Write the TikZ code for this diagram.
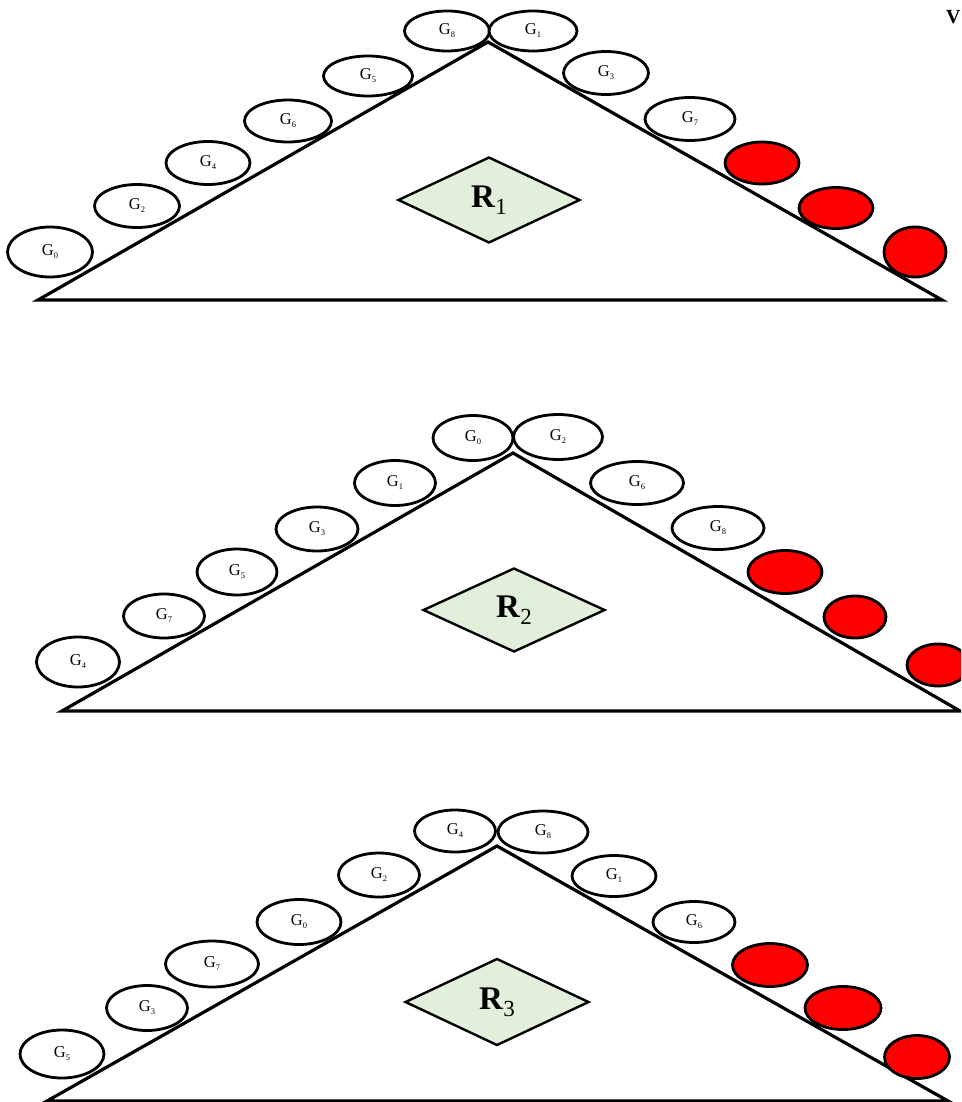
\documentclass[tikz,border=0pt]{standalone}
\usepackage{fontspec}
\setmainfont{Liberation Serif}
\usetikzlibrary{shapes.geometric}
\definecolor{rgreen}{RGB}{226,239,218}
\definecolor{bred}{RGB}{255,0,0}
\newcommand{\glab}[1]{\fontsize{16.5}{17}\selectfont G\raisebox{-3pt}{\fontsize{8.5}{8.5}\selectfont #1}}
\newcommand{\rlab}[1]{\fontsize{33}{35}\selectfont\textbf{R}\raisebox{-7pt}{\fontsize{23}{23}\selectfont #1}}
\tikzset{
  tri/.style={draw=black, line width=3.2pt, line join=miter},
  gnode/.style={ellipse, draw=black, line width=2.8pt, fill=white, inner sep=0pt},
  rednode/.style={ellipse, draw=black, line width=2.8pt, fill=bred, inner sep=0pt},
  rnode/.style={diamond, draw=black, line width=2.4pt, fill=rgreen, inner sep=0pt, aspect=2.1},
}
\newcommand{\gel}[5]{\node[gnode, minimum width=#3pt, minimum height=#4pt] (#1) at (#2) {\glab{#5}};}
\newcommand{\rel}[4]{\node[rednode, minimum width=#3pt, minimum height=#4pt] (#1) at (#2) {};}
\begin{document}
\begin{tikzpicture}[x=1pt, y=-1pt]
\useasboundingbox (0,0) rectangle (961,1102);
\clip (0,0) rectangle (961,1102);
\fill[white] (0,0) rectangle (961,1102);
% ---------- Triangle 1 ----------
\coordinate (t1l) at (38,300);
\coordinate (t1a) at (488,42);
\coordinate (t1r) at (942,300);
\draw[tri] (t1l) -- (t1a) -- (t1r) -- cycle;
\gel{a0}{50,252}{85}{50}{0}
\gel{a2}{137,206}{85}{43}{2}
\gel{a4}{208,163}{84}{43}{4}
\gel{a6}{288,121}{87}{42}{6}
\gel{a5}{368,76}{89}{40}{5}
\gel{a8}{447,31}{85}{40}{8}
\gel{a1}{533,31}{88}{40}{1}
\gel{a3}{606,73}{85}{43}{3}
\gel{a7}{690,119}{90}{43}{7}
\rel{ar1}{762,163}{74}{42}
\rel{ar2}{836,208}{74}{41}
\rel{ar3}{915,252}{62}{50}
\node[rnode, minimum width=182pt, minimum height=86pt] (R1) at (489,200) {\rlab{1}};
% ---------- Triangle 2 ----------
\coordinate (t2l) at (62,711);
\coordinate (t2a) at (513,453);
\coordinate (t2r) at (960,711);
\draw[tri] (t2l) -- (t2a) -- (t2r) -- cycle;
\gel{b4}{78,662}{83}{50}{4}
\gel{b7}{164,616}{81}{44}{7}
\gel{b5}{237,572}{80}{46}{5}
\gel{b3}{317,529}{82}{44}{3}
\gel{b1}{395,483}{81}{45}{1}
\gel{b0}{473,438}{80}{45}{0}
\gel{b2}{558,437}{89}{45}{2}
\gel{b6}{637,483}{93}{43}{6}
\gel{b8}{718,528}{92}{43}{8}
\rel{br1}{785,572}{74}{43}
\rel{br2}{855,617}{62}{42}
\rel{br3}{938,665}{62}{42}
\node[rnode, minimum width=182pt, minimum height=84pt] (R2) at (514,610) {\rlab{2}};
% ---------- Triangle 3 ----------
\coordinate (t3l) at (47,1101);
\coordinate (t3a) at (497,846);
\coordinate (t3r) at (948,1101);
\draw[tri] (t3l) -- (t3a) -- (t3r) -- cycle;
\gel{c5}{62,1054}{84}{48}{5}
\gel{c3}{147,1008}{81}{45}{3}
\gel{c7}{212,964}{93}{46}{7}
\gel{c0}{299,922}{84}{45}{0}
\gel{c2}{379,875}{81}{44}{2}
\gel{c4}{455,831}{81}{42}{4}
\gel{c8}{543,832}{90}{42}{8}
\gel{c1}{614,876}{84}{41}{1}
\gel{c6}{694,922}{82}{41}{6}
\rel{cr1}{770,965}{75}{43}
\rel{cr2}{843,1008}{76}{43}
\rel{cr3}{917,1057}{65}{43}
\node[rnode, minimum width=184pt, minimum height=87pt] (R3) at (497,1002) {\rlab{3}};
% ---------- cut-off text ----------
\node[anchor=west, inner sep=0pt, font=\fontsize{20}{20}\selectfont\bfseries] (vtxt) at (946,17) {V};
\end{tikzpicture}
\end{document}
